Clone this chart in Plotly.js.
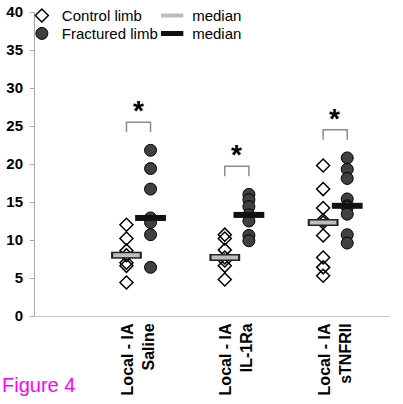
<!DOCTYPE html>
<html>
<head>
<meta charset="utf-8">
<script src="https://cdn.plot.ly/plotly-3.0.1.min.js"></script>
<style>html,body{margin:0;padding:0;background:#fff;}#chart{width:403px;height:404px;}</style>
</head>
<body>
<div id="chart"></div>
<script>
// ---- data ----
const categories = ['Local - IA<br>Saline', 'Local - IA<br>IL-1Ra', 'Local - IA<br>sTNFRII'];
const controlSaline = [12.0, 10.2, 8.6, 8.0, 7.0, 6.6, 4.4];
const controlIL1Ra = [10.7, 10.2, 8.7, 7.7, 7.3, 6.6, 4.8];
const controlSTNFRII = [19.8, 16.7, 14.2, 12.6, 12.3, 10.6, 7.7, 6.4, 5.3];
const fracturedSaline = [21.8, 19.4, 16.7, 12.9, 12.3, 10.7, 6.4];
const fracturedIL1Ra = [16.0, 15.3, 14.4, 13.3, 12.5, 10.6, 9.9];
const fracturedSTNFRII = [20.8, 19.3, 18.1, 15.4, 14.5, 14.3, 13.4, 10.7, 9.6];
const significance = ['*', '*', '*'];

const controlGroups = [controlSaline, controlIL1Ra, controlSTNFRII];
const fracturedGroups = [fracturedSaline, fracturedIL1Ra, fracturedSTNFRII];

function median(a) {
  const s = a.slice().sort((p, q) => p - q);
  const m = Math.floor(s.length / 2);
  return s.length % 2 ? s[m] : (s[m - 1] + s[m]) / 2;
}

const OFF_C = -0.12, OFF_F = 0.125;
const cx = [], cy = [], fx = [], fy = [];
controlGroups.forEach((g, i) => g.forEach(v => { cx.push(i + 1 + OFF_C); cy.push(v); }));
fracturedGroups.forEach((g, i) => g.forEach(v => { fx.push(i + 1 + OFF_F); fy.push(v); }));
const medCx = controlGroups.map((g, i) => i + 1 + OFF_C);
const medCy = controlGroups.map(median);
const medFx = fracturedGroups.map((g, i) => i + 1 + OFF_F);
const medFy = fracturedGroups.map(median);

const traces = [
  {x: cx, y: cy, type: 'scatter', mode: 'markers', name: 'Control limb', legend: 'legend',
   marker: {symbol: 'diamond-open', size: 10, color: '#000', line: {width: 1.5, color: '#000'}}},
  {x: medCx, y: medCy, type: 'scatter', mode: 'markers', showlegend: false, hoverinfo: 'skip',
   marker: {symbol: 'line-ew', size: 22, line: {width: 7, color: '#222'}}},
  {x: medCx, y: medCy, type: 'scatter', mode: 'markers', name: 'median', legend: 'legend3',
   marker: {symbol: 'line-ew', size: 19, line: {width: 4, color: '#bdbdbd'}}},
  {x: fx, y: fy, type: 'scatter', mode: 'markers', name: 'Fractured limb', legend: 'legend2',
   marker: {symbol: 'circle', size: 12, color: '#404040', line: {width: 1, color: '#000'}}},
  {x: medFx, y: medFy, type: 'scatter', mode: 'markers', name: 'median', legend: 'legend4',
   marker: {symbol: 'line-ew', size: 22, line: {width: 6, color: '#111'}}}
];

const annotations = [];
controlGroups.forEach((g, i) => {
  const top = Math.max(...g, ...fracturedGroups[i]) + 3.7;
  traces.push({x: [i + 1 + OFF_C, i + 1 + OFF_C, i + 1 + OFF_F, i + 1 + OFF_F],
    y: [top - 1.3, top, top, top - 1.3], type: 'scatter', mode: 'lines', showlegend: false,
    hoverinfo: 'skip', line: {color: '#8c8c8c', width: 1.5}});
  annotations.push({x: i + 1, y: top, xref: 'x', yref: 'y', text: '<b>' + significance[i] + '</b>',
    showarrow: false, yanchor: 'bottom', yshift: -6, font: {family: 'Liberation Sans, Arial', size: 28, color: '#000'}});
});
annotations.push({x: -35 / 355, y: -0.185, xref: 'paper', yref: 'paper', xanchor: 'left', yanchor: 'top',
  text: 'Figure 4', showarrow: false, font: {family: 'Liberation Sans, Arial', size: 20, color: '#ff00ff'}});

const legendCommon = {xanchor: 'left', yanchor: 'top', bgcolor: 'rgba(0,0,0,0)',
  font: {size: 15, color: '#000'}, itemwidth: 30};

const layout = {
  width: 403, height: 404,
  margin: {l: 35, r: 13, t: 12, b: 88, autoexpand: false},
  paper_bgcolor: '#fff', plot_bgcolor: '#fff',
  font: {family: 'Liberation Sans, Arial', color: '#000'},
  showlegend: true,
  xaxis: {range: [-0.05, 3.56], tickvals: [1, 2, 3], ticktext: categories.map(c => '<b>' + c.replace('<br>', '</b><br><b>') + '</b>'),
    tickangle: -90, tickfont: {size: 16, color: '#000'}, showline: true, linecolor: '#c8c8c8', linewidth: 1,
    ticks: '', showgrid: false, zeroline: false, fixedrange: true},
  yaxis: {range: [0, 40], dtick: 5, tickfont: {size: 15, color: '#000', weight: 'bold'}, showline: true,
    linecolor: '#a8a8a8', linewidth: 1, ticks: 'outside', ticklen: 4, tickcolor: '#a8a8a8',
    ticklabelstandoff: 4, showgrid: false, zeroline: false, fixedrange: true},
  legend: Object.assign({}, legendCommon, {x: -0.037, y: 1.042}),
  legend2: Object.assign({}, legendCommon, {x: -0.037, y: 0.983}),
  legend3: Object.assign({}, legendCommon, {x: 0.33, y: 1.042}),
  legend4: Object.assign({}, legendCommon, {x: 0.33, y: 0.983}),
  annotations: annotations
};

Plotly.newPlot('chart', traces, layout, {displayModeBar: false, staticPlot: true});
</script>
</body>
</html>
